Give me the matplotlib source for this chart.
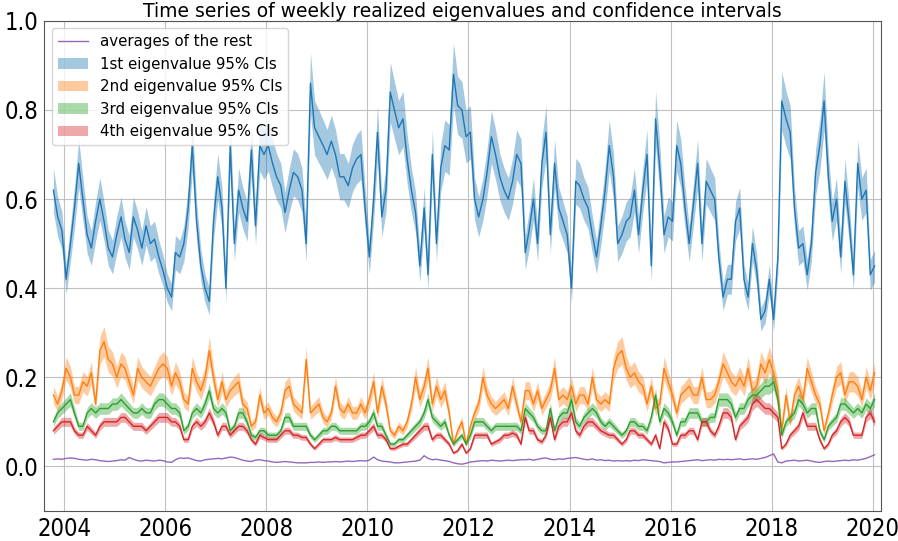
import numpy as np
import pandas as pd
import matplotlib
matplotlib.use("Agg")
import matplotlib.pyplot as plt
import matplotlib.dates as mdates
from matplotlib.patches import Patch
from matplotlib.lines import Line2D

# monthly readings, Sep 2003 .. Dec 2019
start_month = "2003-09-15"

eig1 = [0.62, 0.56, 0.53, 0.42,
        0.50, 0.58, 0.68, 0.60, 0.52, 0.49, 0.55, 0.60, 0.55, 0.49, 0.47, 0.52,
        0.56, 0.51, 0.48, 0.56, 0.53, 0.49, 0.54, 0.50, 0.51, 0.47, 0.44, 0.40,
        0.38, 0.48, 0.47, 0.50, 0.58, 0.72, 0.55, 0.45, 0.40, 0.37, 0.55, 0.65,
        0.58, 0.40, 0.72, 0.50, 0.62, 0.58, 0.55, 0.71, 0.54, 0.72, 0.70, 0.72,
        0.68, 0.65, 0.63, 0.57, 0.62, 0.66, 0.65, 0.62, 0.50, 0.86, 0.76, 0.74,
        0.72, 0.70, 0.73, 0.70, 0.65, 0.65, 0.63, 0.67, 0.69, 0.70, 0.58, 0.47,
        0.60, 0.75, 0.56, 0.62, 0.84, 0.80, 0.76, 0.78, 0.69, 0.62, 0.57, 0.45,
        0.58, 0.43, 0.70, 0.50, 0.67, 0.72, 0.71, 0.88, 0.81, 0.80, 0.74, 0.75,
        0.60, 0.56, 0.60, 0.66, 0.74, 0.70, 0.65, 0.62, 0.60, 0.64, 0.70, 0.68,
        0.48, 0.53, 0.60, 0.50, 0.68, 0.75, 0.52, 0.68, 0.58, 0.55, 0.52, 0.40,
        0.64, 0.63, 0.60, 0.58, 0.52, 0.47, 0.54, 0.62, 0.72, 0.65, 0.50, 0.52,
        0.55, 0.56, 0.62, 0.52, 0.62, 0.70, 0.45, 0.78, 0.67, 0.52, 0.56, 0.55,
        0.72, 0.68, 0.58, 0.50, 0.59, 0.68, 0.50, 0.64, 0.62, 0.60, 0.47, 0.38,
        0.42, 0.42, 0.55, 0.58, 0.42, 0.38, 0.50, 0.44, 0.33, 0.35, 0.42, 0.33,
        0.47, 0.82, 0.78, 0.75, 0.58, 0.49, 0.50, 0.43, 0.50, 0.66, 0.72, 0.82,
        0.65, 0.55, 0.60, 0.47, 0.64, 0.55, 0.43, 0.68, 0.60, 0.62, 0.43, 0.45]

eig2 = [0.16, 0.14, 0.17, 0.22,
        0.20, 0.16, 0.16, 0.19, 0.18, 0.21, 0.14, 0.26, 0.28, 0.24, 0.23, 0.20,
        0.23, 0.22, 0.19, 0.16, 0.22, 0.20, 0.19, 0.18, 0.20, 0.22, 0.23, 0.22,
        0.18, 0.21, 0.19, 0.15, 0.14, 0.22, 0.19, 0.17, 0.20, 0.26, 0.20, 0.15,
        0.19, 0.15, 0.17, 0.18, 0.19, 0.14, 0.13, 0.09, 0.10, 0.16, 0.12, 0.13,
        0.11, 0.10, 0.12, 0.17, 0.18, 0.14, 0.13, 0.12, 0.24, 0.12, 0.13, 0.14,
        0.11, 0.10, 0.12, 0.18, 0.13, 0.12, 0.14, 0.12, 0.12, 0.14, 0.12, 0.15,
        0.19, 0.12, 0.18, 0.14, 0.08, 0.07, 0.09, 0.08, 0.10, 0.14, 0.20, 0.15,
        0.18, 0.22, 0.14, 0.18, 0.15, 0.17, 0.12, 0.05, 0.08, 0.10, 0.05, 0.09,
        0.12, 0.14, 0.20, 0.16, 0.14, 0.13, 0.14, 0.15, 0.13, 0.18, 0.14, 0.10,
        0.17, 0.17, 0.14, 0.17, 0.13, 0.15, 0.17, 0.22, 0.15, 0.16, 0.15, 0.18,
        0.14, 0.16, 0.16, 0.14, 0.20, 0.15, 0.14, 0.15, 0.14, 0.22, 0.25, 0.26,
        0.22, 0.20, 0.21, 0.19, 0.18, 0.14, 0.18, 0.13, 0.14, 0.22, 0.19, 0.16,
        0.12, 0.16, 0.17, 0.18, 0.16, 0.16, 0.20, 0.15, 0.15, 0.16, 0.19, 0.23,
        0.21, 0.19, 0.18, 0.20, 0.18, 0.22, 0.17, 0.18, 0.23, 0.21, 0.24, 0.21,
        0.17, 0.08, 0.16, 0.10, 0.16, 0.18, 0.15, 0.22, 0.19, 0.16, 0.14, 0.08,
        0.12, 0.16, 0.20, 0.21, 0.16, 0.19, 0.19, 0.18, 0.15, 0.20, 0.17, 0.21]

eig3 = [0.10, 0.12, 0.13, 0.14,
        0.15, 0.12, 0.09, 0.09, 0.12, 0.13, 0.12, 0.13, 0.13, 0.13, 0.14, 0.14,
        0.15, 0.14, 0.13, 0.12, 0.12, 0.13, 0.12, 0.12, 0.14, 0.15, 0.15, 0.14,
        0.13, 0.13, 0.12, 0.08, 0.09, 0.12, 0.13, 0.12, 0.14, 0.17, 0.13, 0.12,
        0.13, 0.12, 0.08, 0.09, 0.12, 0.12, 0.10, 0.07, 0.065, 0.08, 0.08, 0.07,
        0.07, 0.07, 0.08, 0.11, 0.11, 0.09, 0.09, 0.09, 0.09, 0.07, 0.06, 0.07,
        0.08, 0.08, 0.09, 0.09, 0.08, 0.08, 0.08, 0.08, 0.08, 0.09, 0.09, 0.10,
        0.12, 0.09, 0.09, 0.07, 0.05, 0.05, 0.06, 0.06, 0.07, 0.08, 0.09, 0.10,
        0.12, 0.15, 0.11, 0.10, 0.09, 0.10, 0.07, 0.05, 0.06, 0.07, 0.05, 0.07,
        0.10, 0.10, 0.10, 0.09, 0.08, 0.09, 0.09, 0.09, 0.09, 0.09, 0.09, 0.08,
        0.13, 0.12, 0.11, 0.09, 0.08, 0.08, 0.13, 0.08, 0.11, 0.12, 0.12, 0.15,
        0.10, 0.09, 0.11, 0.12, 0.13, 0.12, 0.10, 0.09, 0.10, 0.09, 0.08, 0.07,
        0.08, 0.10, 0.10, 0.09, 0.09, 0.08, 0.11, 0.16, 0.10, 0.13, 0.12, 0.10,
        0.07, 0.10, 0.10, 0.12, 0.12, 0.12, 0.10, 0.10, 0.11, 0.11, 0.15, 0.15,
        0.15, 0.14, 0.11, 0.13, 0.13, 0.15, 0.16, 0.16, 0.17, 0.18, 0.18, 0.19,
        0.15, 0.07, 0.10, 0.11, 0.12, 0.15, 0.14, 0.12, 0.13, 0.13, 0.08, 0.06,
        0.09, 0.10, 0.11, 0.14, 0.14, 0.13, 0.12, 0.13, 0.12, 0.14, 0.13, 0.15]

eig4 = [0.08, 0.09, 0.10, 0.10,
        0.10, 0.08, 0.07, 0.07, 0.09, 0.08, 0.07, 0.09, 0.10, 0.10, 0.10, 0.10,
        0.11, 0.11, 0.10, 0.09, 0.09, 0.09, 0.08, 0.09, 0.10, 0.11, 0.11, 0.11,
        0.10, 0.10, 0.09, 0.06, 0.06, 0.09, 0.10, 0.09, 0.10, 0.12, 0.10, 0.07,
        0.09, 0.09, 0.07, 0.08, 0.09, 0.09, 0.08, 0.06, 0.05, 0.07, 0.065, 0.06,
        0.06, 0.06, 0.07, 0.08, 0.08, 0.07, 0.07, 0.065, 0.065, 0.05, 0.04, 0.05,
        0.06, 0.06, 0.06, 0.065, 0.06, 0.06, 0.06, 0.06, 0.065, 0.07, 0.07, 0.08,
        0.09, 0.07, 0.07, 0.06, 0.04, 0.04, 0.045, 0.05, 0.05, 0.06, 0.07, 0.08,
        0.09, 0.09, 0.06, 0.07, 0.07, 0.06, 0.05, 0.03, 0.035, 0.05, 0.03, 0.04,
        0.07, 0.07, 0.07, 0.07, 0.05, 0.055, 0.06, 0.07, 0.07, 0.075, 0.07, 0.05,
        0.11, 0.08, 0.08, 0.06, 0.055, 0.07, 0.11, 0.06, 0.09, 0.10, 0.10, 0.12,
        0.08, 0.07, 0.09, 0.10, 0.10, 0.09, 0.08, 0.075, 0.07, 0.07, 0.06, 0.05,
        0.06, 0.08, 0.08, 0.07, 0.07, 0.06, 0.05, 0.07, 0.04, 0.10, 0.085, 0.05,
        0.05, 0.07, 0.07, 0.08, 0.08, 0.06, 0.10, 0.10, 0.08, 0.07, 0.09, 0.12,
        0.12, 0.11, 0.06, 0.09, 0.10, 0.11, 0.14, 0.15, 0.14, 0.13, 0.13, 0.12,
        0.11, 0.04, 0.05, 0.07, 0.08, 0.09, 0.12, 0.09, 0.09, 0.09, 0.06, 0.04,
        0.05, 0.07, 0.08, 0.10, 0.11, 0.10, 0.07, 0.07, 0.07, 0.11, 0.12, 0.10]

rest_avg = [0.016, 0.017, 0.016, 0.018,
            0.019, 0.018, 0.016, 0.015, 0.014, 0.016, 0.015, 0.013, 0.012, 0.011, 0.012, 0.013,
            0.015, 0.014, 0.020, 0.016, 0.013, 0.012, 0.014, 0.013, 0.012, 0.014, 0.013, 0.010,
            0.009, 0.015, 0.019, 0.018, 0.019, 0.016, 0.013, 0.012, 0.015, 0.016, 0.017, 0.018,
            0.017, 0.019, 0.021, 0.020, 0.017, 0.014, 0.012, 0.011, 0.014, 0.015, 0.013, 0.012,
            0.010, 0.009, 0.010, 0.011, 0.010, 0.009, 0.008, 0.008, 0.008, 0.009, 0.009, 0.010,
            0.009, 0.010, 0.010, 0.011, 0.010, 0.011, 0.012, 0.011, 0.012, 0.013, 0.012, 0.014,
            0.021, 0.015, 0.012, 0.011, 0.010, 0.008, 0.008, 0.009, 0.010, 0.011, 0.012, 0.014,
            0.024, 0.018, 0.015, 0.016, 0.014, 0.013, 0.011, 0.008, 0.006, 0.005, 0.007, 0.010,
            0.011, 0.012, 0.013, 0.012, 0.014, 0.013, 0.012, 0.013, 0.014, 0.013, 0.014, 0.015,
            0.015, 0.016, 0.014, 0.016, 0.018, 0.019, 0.016, 0.015, 0.017, 0.016, 0.018, 0.019,
            0.020, 0.018, 0.016, 0.015, 0.017, 0.014, 0.015, 0.013, 0.014, 0.012, 0.013, 0.012,
            0.013, 0.012, 0.014, 0.013, 0.015, 0.014, 0.013, 0.012, 0.011, 0.008, 0.009, 0.010,
            0.010, 0.011, 0.012, 0.013, 0.014, 0.015, 0.013, 0.014, 0.015, 0.014, 0.016, 0.015,
            0.016, 0.015, 0.016, 0.017, 0.015, 0.016, 0.017, 0.016, 0.018, 0.020, 0.024, 0.028,
            0.010, 0.008, 0.012, 0.013, 0.014, 0.012, 0.013, 0.014, 0.012, 0.010, 0.009, 0.011,
            0.012, 0.011, 0.012, 0.013, 0.014, 0.013, 0.015, 0.014, 0.016, 0.018, 0.022, 0.026]

# relative half-width of the 95% CI band for each eigenvalue
ci_rel = [0.08, 0.12, 0.10, 0.10]

labels = ["1st eigenvalue 95% CIs", "2nd eigenvalue 95% CIs",
          "3rd eigenvalue 95% CIs", "4th eigenvalue 95% CIs"]
rest_label = "averages of the rest"
title = "Time series of weekly realized eigenvalues and confidence intervals"

colors = ["tab:blue", "tab:orange", "tab:green", "tab:red"]

dates = pd.date_range(start_month, periods=len(eig1), freq="MS") + pd.Timedelta(days=14)

fig = plt.figure(figsize=(8.98, 5.41), dpi=100)
ax = fig.add_axes([0.049, 0.0555, 0.932, 0.906])

handles = [Line2D([0], [0], color="tab:purple", lw=1.0, label=rest_label)]
for vals, rel, c, lab in zip([eig1, eig2, eig3, eig4], ci_rel, colors, labels):
    v = np.asarray(vals)
    ax.fill_between(dates, v * (1 - rel), v * (1 + rel), color=c, alpha=0.4, lw=0)
    ax.plot(dates, v, color=c, lw=1.0)
    handles.append(Patch(facecolor=c, alpha=0.4, label=lab))
ax.plot(dates, rest_avg, color="tab:purple", lw=1.0)

ax.set_ylim(-0.1, 1.0)
ax.set_xlim(pd.Timestamp("2003-08-08"), pd.Timestamp("2020-03-01"))
ax.xaxis.set_major_locator(mdates.YearLocator(2))
ax.xaxis.set_major_formatter(mdates.DateFormatter("%Y"))
ax.set_yticks([0.0, 0.2, 0.4, 0.6, 0.8, 1.0])
ax.grid(True, color="#c0c0c0", lw=0.8)
ax.set_axisbelow(True)
for lab in ax.get_xticklabels() + ax.get_yticklabels():
    lab.set_fontsize(17)
    lab.set_fontstretch("condensed")
ax.tick_params(length=0, pad=4)
for s in ax.spines.values():
    s.set_color("#555555")

ax.set_title(title, fontsize=13.5, pad=3)
ax.legend(handles=handles, loc="upper left", fontsize=10.8, framealpha=0.8,
          handlelength=2.0)

fig.savefig("out.png", dpi=100)
